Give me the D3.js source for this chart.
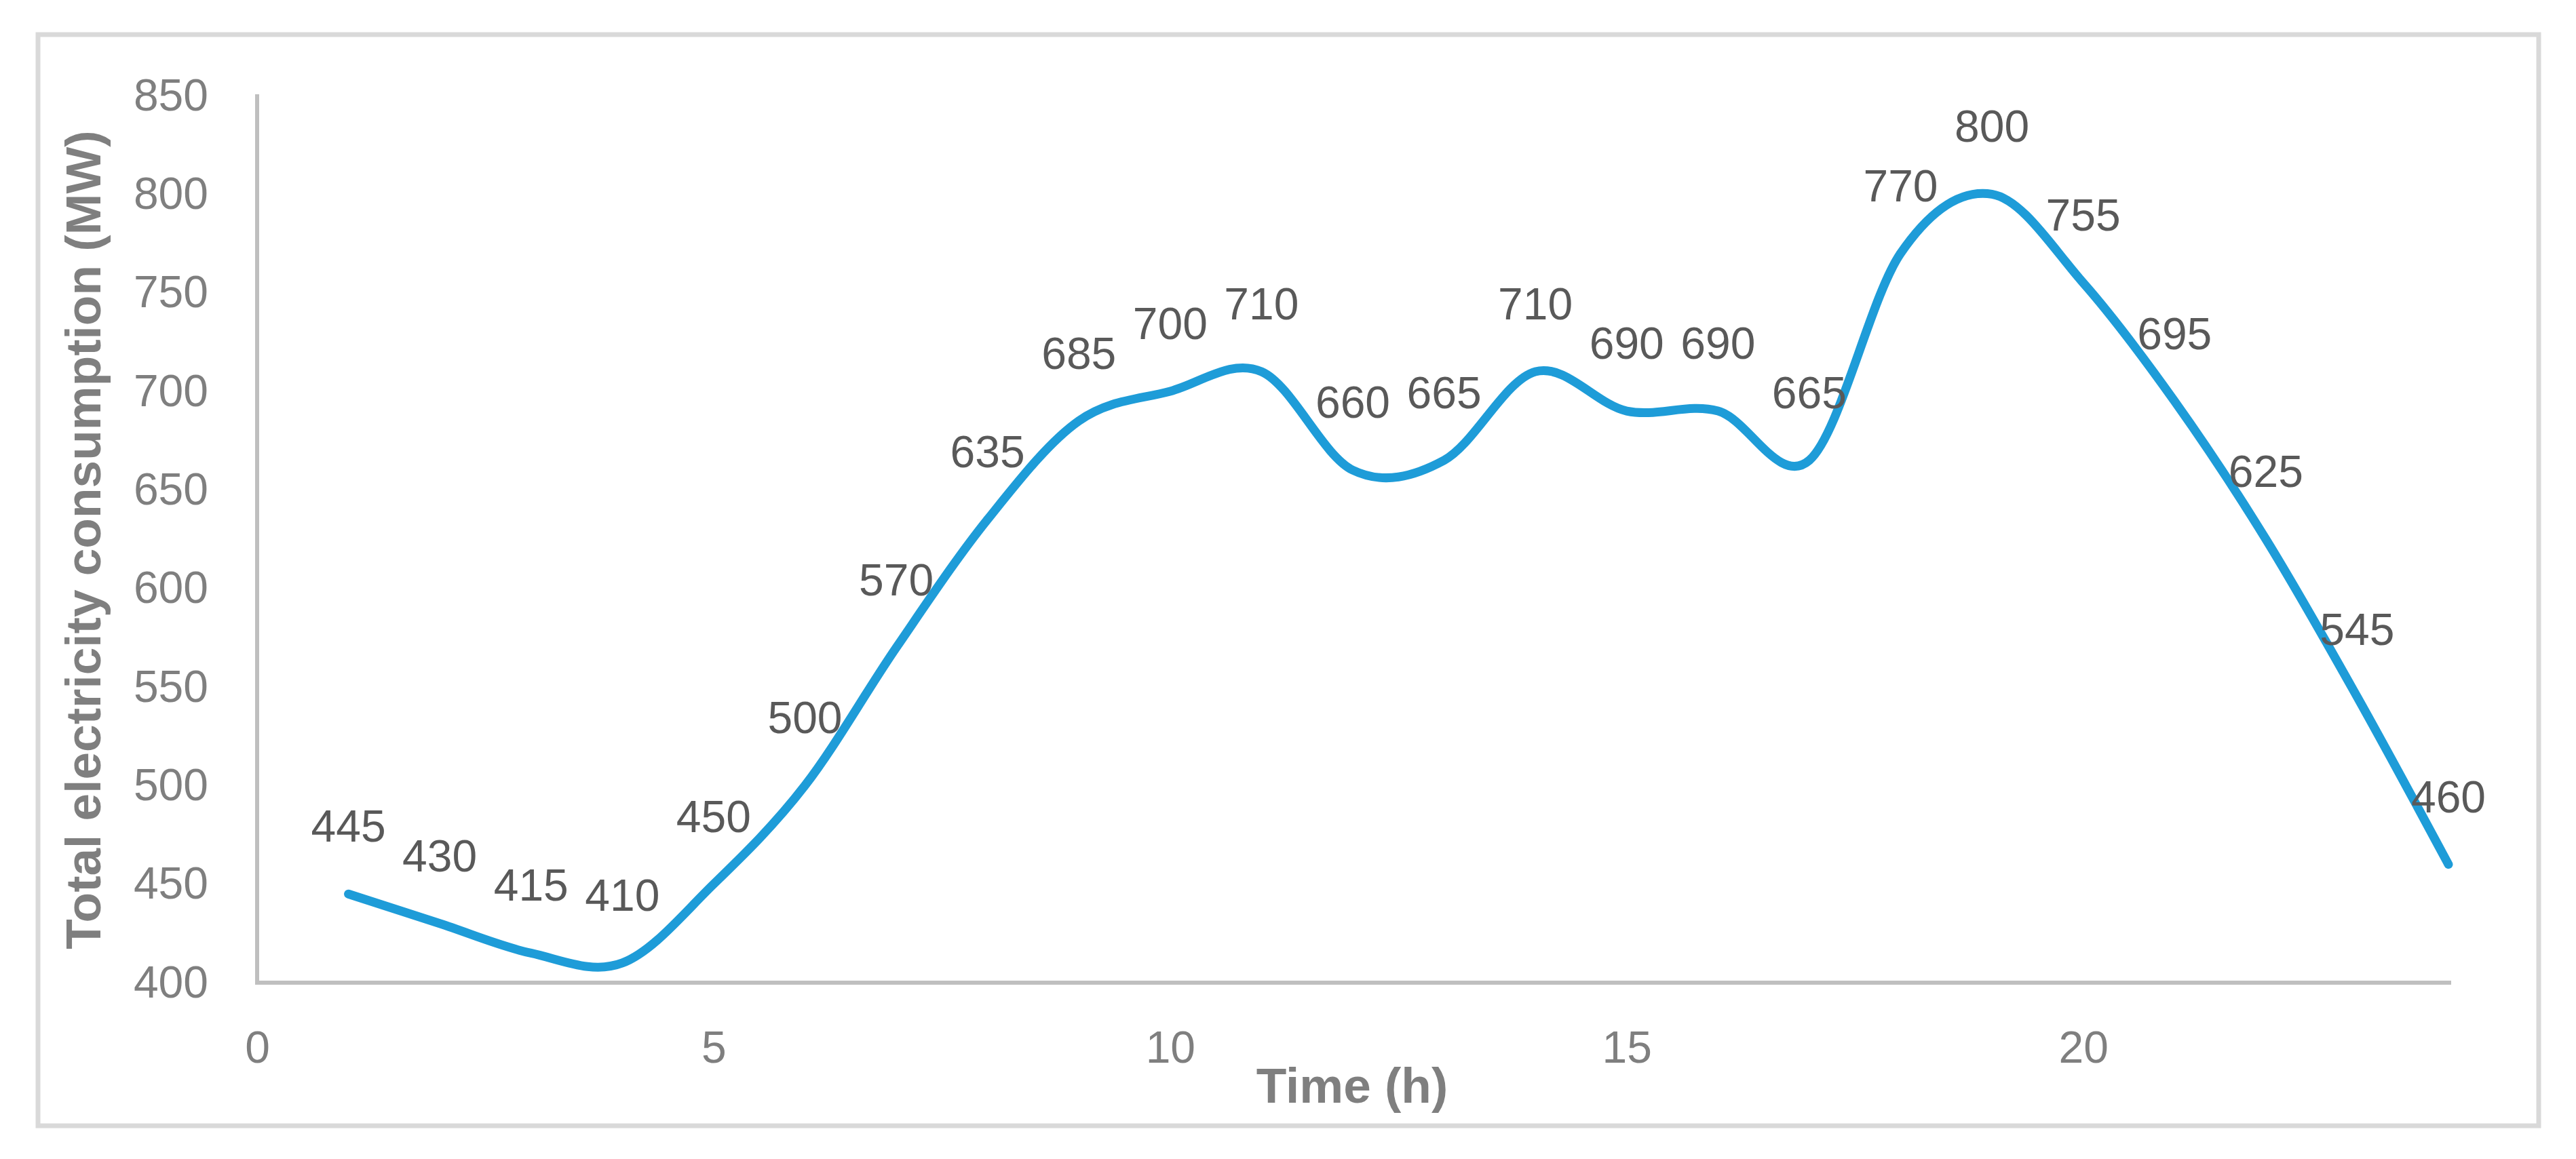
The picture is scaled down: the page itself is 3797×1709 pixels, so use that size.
<!DOCTYPE html>
<html>
<head>
<meta charset="utf-8">
<script src="https://cdn.jsdelivr.net/npm/d3@7"></script>
<style>
  html, body { margin: 0; padding: 0; background: #ffffff; }
  svg { display: block; }
</style>
</head>
<body>
<svg id="chart" width="3797" height="1709"></svg>
<script>
// ---- data ----
const hours = [1, 2, 3, 4, 5, 6, 7, 8, 9, 10, 11, 12, 13, 14, 15, 16, 17, 18, 19, 20, 21, 22, 23, 24];
const consumption = [445, 430, 415, 410, 450, 500, 570, 635, 685, 700, 710, 660, 665, 710, 690, 690, 665, 770, 800, 755, 695, 625, 545, 460];
const xTicks = [0, 5, 10, 15, 20];
const yTicks = [400, 450, 500, 550, 600, 650, 700, 750, 800, 850];
const xTitle = "Time (h)";
const yTitle = "Total electricity consumption (MW)";

const W = 3797, H = 1709;
const svg = d3.select("#chart");
svg.append("rect").attr("x", 0).attr("y", 0).attr("width", W).attr("height", H).attr("fill", "#ffffff");

// outer chart border
svg.append("rect")
  .attr("x", 56).attr("y", 51).attr("width", 3742 - 56).attr("height", 1660 - 51)
  .attr("fill", "none").attr("stroke", "#d9d9d9").attr("stroke-width", 7);

const x = d3.scaleLinear().domain([0, 24]).range([379, 3609]);
const y = d3.scaleLinear().domain([400, 850]).range([1449, 141]);

const FONT = "'Liberation Sans', Arial, 'DejaVu Sans', sans-serif";
const NUM_SIZE = 66;

// x axis
const gx = svg.append("g").attr("transform", `translate(0,${y(400)})`)
  .call(d3.axisBottom(x).tickValues(xTicks).tickSize(0).tickPadding(71).tickFormat(d3.format("d")));
gx.select(".domain").attr("stroke", "#bfbfbf").attr("stroke-width", 6).attr("d", `M${x(0)},0H${x(24) + 4}`);
gx.selectAll("text").attr("font-family", FONT).attr("font-size", NUM_SIZE).attr("fill", "#7f7f7f");

// y axis
const gy = svg.append("g").attr("transform", `translate(${x(0)},0)`)
  .call(d3.axisLeft(y).tickValues(yTicks).tickSize(0).tickPadding(72).tickFormat(d3.format("d")));
gy.select(".domain").attr("stroke", "#bfbfbf").attr("stroke-width", 6).attr("d", `M0,${y(850) - 2}V${y(400) + 3}`);
gy.selectAll("text").attr("font-family", FONT).attr("font-size", NUM_SIZE).attr("fill", "#7f7f7f");

// axis titles
svg.append("text")
  .attr("x", 1993).attr("y", 1626)
  .attr("text-anchor", "middle")
  .attr("font-family", FONT).attr("font-size", 73).attr("font-weight", "bold")
  .attr("fill", "#7f7f7f")
  .text(xTitle);

svg.append("text")
  .attr("transform", "translate(148,796) rotate(-90)")
  .attr("text-anchor", "middle")
  .attr("font-family", FONT).attr("font-size", 73).attr("font-weight", "bold")
  .attr("fill", "#7f7f7f")
  .text(yTitle);

// smoothed line
const data = hours.map((h, i) => ({ h: h, v: consumption[i] }));
const line = d3.line()
  .x(d => x(d.h))
  .y(d => y(d.v))
  .curve(d3.curveCatmullRom.alpha(0));

svg.append("path")
  .datum(data)
  .attr("d", line)
  .attr("fill", "none")
  .attr("stroke", "#1e9cd8")
  .attr("stroke-width", 13)
  .attr("stroke-linecap", "round")
  .attr("stroke-linejoin", "round");

// data labels (above)
svg.append("g").selectAll("text")
  .data(data)
  .join("text")
  .attr("x", d => x(d.h))
  .attr("y", d => y(d.v) - 77)
  .attr("text-anchor", "middle")
  .attr("font-family", FONT).attr("font-size", NUM_SIZE)
  .attr("fill", "#595959")
  .text(d => d.v);
</script>
</body>
</html>
